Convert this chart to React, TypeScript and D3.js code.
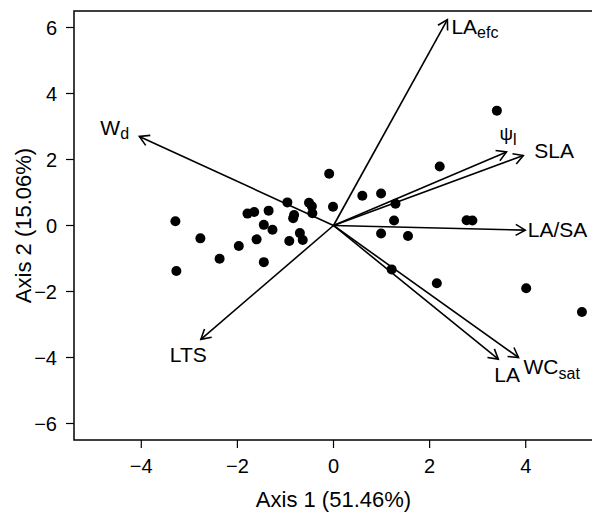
import React from "react";
import * as d3 from "d3";

// Site scores (Axis 1, Axis 2)
const pointX = [-3.29, -3.27, -2.77, -2.37, -1.97, -1.79, -1.65, -1.35, -1.45, -1.27, -1.60, -1.45, -0.96, -0.82, -0.84, -0.92, -0.70, -0.64, -0.51, -0.45, -0.44, -0.09, -0.01, 0.60, 0.99, 1.29, 1.26, 0.99, 1.55, 1.21, 2.21, 2.15, 2.77, 2.89, 3.40, 4.01, 5.17];
const pointY = [0.13, -1.38, -0.39, -1.01, -0.62, 0.36, 0.41, 0.45, 0.02, -0.13, -0.42, -1.11, 0.70, 0.32, 0.22, -0.47, -0.23, -0.44, 0.69, 0.58, 0.37, 1.57, 0.57, 0.90, 0.97, 0.66, 0.15, -0.24, -0.32, -1.33, 1.79, -1.75, 0.16, 0.15, 3.48, -1.90, -2.62];

// Trait vectors
const arrowMain = ["LA", "W", "ψ", "SLA", "LA/SA", "LA", "WC", "LTS"];
const arrowSub = ["efc", "d", "l", "", "", "", "sat", ""];
const arrowX = [2.37, -4.04, 3.60, 3.95, 3.99, 3.43, 3.85, -2.76];
const arrowY = [6.24, 2.70, 2.23, 2.12, -0.14, -4.05, -4.00, -3.45];

const xTicks = [-4, -2, 0, 2, 4];
const yTicks = [-6, -4, -2, 0, 2, 4, 6];
const xTitle = "Axis 1 (51.46%)";
const yTitle = "Axis 2 (15.06%)";

// label placement offsets (px) relative to arrow tips
const labelDx = [4, -39, -7, 11, 2.5, -4, 5, -31];
const labelDy = [14, -1, -12, 2, 7, 23, 16, 23];
const subDy = [4, 4, 5, 0, 0, 0, 5, 0];

const W = 592;
const H = 512;
const left = 74;
const right = 593;
const top = 11;
const bottom = 440;
const FONT = "'Liberation Sans', Arial, Helvetica, sans-serif";

export default function App() {
  const x = d3.scaleLinear().domain([-5.4, 5.4]).range([left, right]);
  const y = d3.scaleLinear().domain([-6.5, 6.5]).range([bottom, top]);
  const fmt = (v: number) => (v < 0 ? "\u2212" + Math.abs(v) : String(v));
  const x0 = x(0);
  const y0 = y(0);
  const headLen = 11;
  const headAng = Math.PI / 6;

  return (
    <svg width={W} height={H} style={{ position: "absolute", left: 0, top: 0, background: "#fff" }} fontFamily={FONT}>
      <rect x={0} y={0} width={W} height={H} fill="#fff" />
      {/* box */}
      <rect x={left} y={top} width={right - left} height={bottom - top} fill="none" stroke="#000" strokeWidth={1.5} />
      {/* x axis */}
      {xTicks.map((t) => (
        <g key={"xt" + t}>
          <line x1={x(t)} x2={x(t)} y1={bottom} y2={bottom + 8} stroke="#000" strokeWidth={1.2} />
          <text x={x(t)} y={473} textAnchor="middle" fontSize={20}>{fmt(t)}</text>
        </g>
      ))}
      {yTicks.map((t) => (
        <g key={"yt" + t}>
          <line x1={left - 8} x2={left} y1={y(t)} y2={y(t)} stroke="#000" strokeWidth={1.2} />
          <text x={57} y={y(t)} textAnchor="end" dominantBaseline="central" fontSize={20}>{fmt(t)}</text>
        </g>
      ))}
      <text x={(left + right) / 2} y={507} textAnchor="middle" fontSize={22}>{xTitle}</text>
      <text transform={`translate(31,${(top + bottom) / 2}) rotate(-90)`} textAnchor="middle" fontSize={22}>{yTitle}</text>

      {/* arrows */}
      {arrowX.map((ax, i) => {
        const tx = x(ax);
        const ty = y(arrowY[i]);
        const ang = Math.atan2(ty - y0, tx - x0);
        const h1x = tx - headLen * Math.cos(ang - headAng);
        const h1y = ty - headLen * Math.sin(ang - headAng);
        const h2x = tx - headLen * Math.cos(ang + headAng);
        const h2y = ty - headLen * Math.sin(ang + headAng);
        return (
          <g key={"a" + i}>
            <line x1={x0} y1={y0} x2={tx} y2={ty} stroke="#000" strokeWidth={1.6} />
            <polyline points={`${h1x},${h1y} ${tx},${ty} ${h2x},${h2y}`} fill="none" stroke="#000" strokeWidth={1.6} />
          </g>
        );
      })}
      {arrowX.map((ax, i) => {
        const tx = x(ax) + labelDx[i];
        const ty = y(arrowY[i]) + labelDy[i];
        const isPsi = arrowMain[i] === "ψ";
        return (
          <text key={"l" + i} x={tx} y={ty} fontSize={isPsi ? 19 : 21}>
            <tspan>{arrowMain[i]}</tspan>
            {arrowSub[i] ? (
              <tspan fontSize={16} dy={subDy[i]}>{arrowSub[i]}</tspan>
            ) : null}
          </text>
        );
      })}

      {/* points */}
      {pointX.map((px, i) => (
        <circle key={"p" + i} cx={x(px)} cy={y(pointY[i])} r={5} fill="#000" />
      ))}
    </svg>
  );
}
